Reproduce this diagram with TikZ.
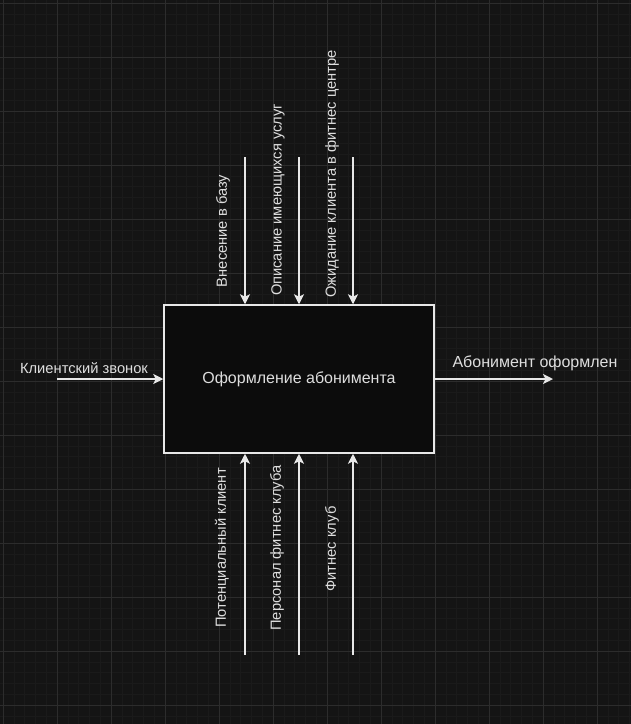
\documentclass[tikz,border=0pt]{standalone}
\usepackage{fontspec}
\setmainfont{Liberation Sans}
\usetikzlibrary{arrows.meta,calc}
\definecolor{bgdark}{RGB}{20,20,20}
\definecolor{gridmaj}{RGB}{44,44,44}
\definecolor{gridmin}{RGB}{26,26,26}
\definecolor{boxfill}{RGB}{12,12,12}
\definecolor{linewhite}{RGB}{232,232,232}
\definecolor{txtgrey}{RGB}{222,222,222}
\tikzset{>={Stealth[length=10pt,width=10pt,inset=2.5pt]}}

\begin{document}
\begin{tikzpicture}[x=1pt,y=-1pt,
		lbl/.style = {text=txtgrey, font=\fontsize{14.7}{17}\selectfont, inner sep=1pt},
		biglbl/.style = {lbl, font=\fontsize{16}{18}\selectfont},
		arr/.style = {->, draw=linewhite, line width=1.5pt},
		procbox/.style = {draw=linewhite, line width=1.5pt, fill=boxfill,
			minimum width=270pt, minimum height=148pt, text=txtgrey,
			font=\fontsize{16}{18}\selectfont},
	]
	\fill[bgdark] (0,0) rectangle (631,724);
	\useasboundingbox (0,0) rectangle (631,724);
	% grid
	\foreach \g in {3,13.8,...,631}
	{
		\draw[gridmin, line width=0.6pt] (\g,0) -- (\g,724);
	};
	\foreach \g in {3,13.8,...,724}
	{
		\draw[gridmin, line width=0.6pt] (0,\g) -- (631,\g);
	};
	\foreach \g in {3,57,...,631}
	{
		\draw[gridmaj, line width=1pt] (\g,0) -- (\g,724);
	};
	\foreach \g in {3,57,...,724}
	{
		\draw[gridmaj, line width=1pt] (0,\g) -- (631,\g);
	};

	\node[procbox] (proc) at (299,379) {Оформление абонимента};

	% input and output
	\coordinate (inp) at (57,379);
	\coordinate (outp) at (553,379);
	\draw[arr] (inp) -- (proc.west);
	\draw[arr] (proc.east) -- (outp);
	\node[lbl] (inlbl) at (84,368) {Клиентский звонок};
	\node[biglbl] (outlbl) at (535,363) {Абонимент оформлен};

	% controls
	\foreach \i/\x in {1/245, 2/299, 3/353}
	{
		\coordinate (ctl\i) at (\x,157);
		\draw[arr] (ctl\i) -- (ctl\i |- proc.north);
	};
	\node[lbl, rotate=90] (ctllbl1) at (223,231) {Внесение в базу};
	\node[lbl, rotate=90] (ctllbl2) at (278,200) {Описание имеющихся услуг};
	\node[lbl, rotate=90] (ctllbl3) at (332,174) {Ожидание клиента в фитнес центре};

	% mechanisms
	\foreach \i/\x in {1/245, 2/299, 3/353}
	{
		\coordinate (mech\i) at (\x,655);
		\draw[arr] (mech\i) -- (mech\i |- proc.south);
	};
	\node[lbl, rotate=90] (mechlbl1) at (222,548) {Потенциальный клиент};
	\node[lbl, rotate=90] (mechlbl2) at (277,548) {Персонал фитнес клуба};
	\node[lbl, rotate=90] (mechlbl3) at (332,549) {Фитнес клуб};
\end{tikzpicture}
\end{document}
